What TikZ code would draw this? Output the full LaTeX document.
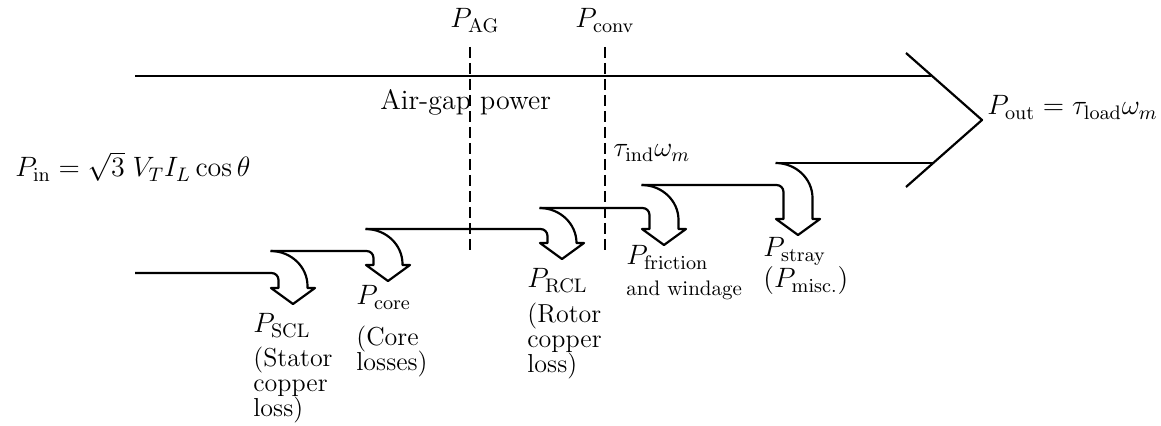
\documentclass[tikz,border=0pt]{standalone}
\usepackage{fix-cm}
\usepackage{tikz}
\usetikzlibrary{calc}
\newcommand\tightlines{\lineskiplimit=-20pt\relax}
\begin{document}
\begin{tikzpicture}[
  x=0.5pt, y=-0.5pt,
  font=\fontsize{14}{12.5}\selectfont,
  band/.style={line width=1.1pt, line join=round},
  cut/.style={line width=0.9pt, dash pattern=on 5.5pt off 2.5pt},
  lbl/.style={inner sep=0pt, anchor=base west},
  note/.style={inner sep=0pt, anchor=north west, align=left, font={\fontsize{13}{12.5}\selectfont\tightlines}},
  small/.style={inner sep=0pt, anchor=base west, font=\fontsize{10.5}{12}\selectfont}
]
\useasboundingbox (0,0) rectangle (1161,426);
\draw[band] (135,76) -- (931,76);
\draw[band] (906,53) -- (982,120) -- (906,187);
\draw[band] (775.5,163) -- (933,163);
\foreach \c/\yi/\yo/\yb/\xf in {293/273/251/288/135, 388/251/229/265/270.5, 562/229/208/243/365.5, 664/208/185/229/539.5, 798/185/163/219/641.5}
  \draw[band] (\xf,\yi) -- ({\c-21.5},\yi)
    .. controls ({\c-17.6},\yi) and ({\c-14.5},{\yi+3.1}) .. ({\c-14.5},{\yi+7})
    -- ({\c-14.5},\yb) -- ({\c-22},\yb) -- (\c,{\yb+16}) -- ({\c+22},\yb) -- ({\c+14.5},\yb)
    -- ({\c+14.5},{\yo+35})
    .. controls ({\c+14.5},{\yo+15.7}) and ({\c-2.1},\yo) .. ({\c-22.5},\yo);
\draw[cut] (470,47) -- (470,253);
\draw[cut] (605,47) -- (605,253);
\node[lbl] (pin) at (15,177) {$P_{\mathrm{in}} = \sqrt{3}\; V_T I_L \cos\theta$};
\node[lbl] (pag) at (450,28) {$P_{\mathrm{AG}}$};
\node[lbl] (pconv) at (575,28) {$P_{\mathrm{conv}}$};
\node[lbl] (airgap) at (380,110) {Air-gap power};
\node[lbl] (tind) at (613,157) {$\tau_{\mathrm{ind}}\omega_m$};
\node[lbl] (pout) at (987,115) {$P_{\mathrm{out}} = \tau_{\mathrm{load}}\omega_m$};
\node[lbl] (pscl) at (253,333) {$P_{\mathrm{SCL}}$};
\node[note] (scltxt) at (253,347) {(Stator\\copper\\loss)};
\node[lbl] (pcore) at (356,305) {$P_{\mathrm{core}}$};
\node[note] (coretxt) at (356,326) {(Core\\losses)};
\node[lbl] (prcl) at (527,288) {$P_{\mathrm{RCL}}$};
\node[note] (rcltxt) at (527,303) {(Rotor\\copper\\loss)};
\node[lbl] (pfric) at (626,265) {$P_{\mathrm{friction}}$};
\node[small] (fricwind) at (626,296) {and windage};
\node[lbl] (pstray) at (763,257) {$P_{\mathrm{stray}}$};
\node[lbl] (pmisc) at (763,288) {$(P_{\mathrm{misc.}})$};
\end{tikzpicture}
\end{document}
